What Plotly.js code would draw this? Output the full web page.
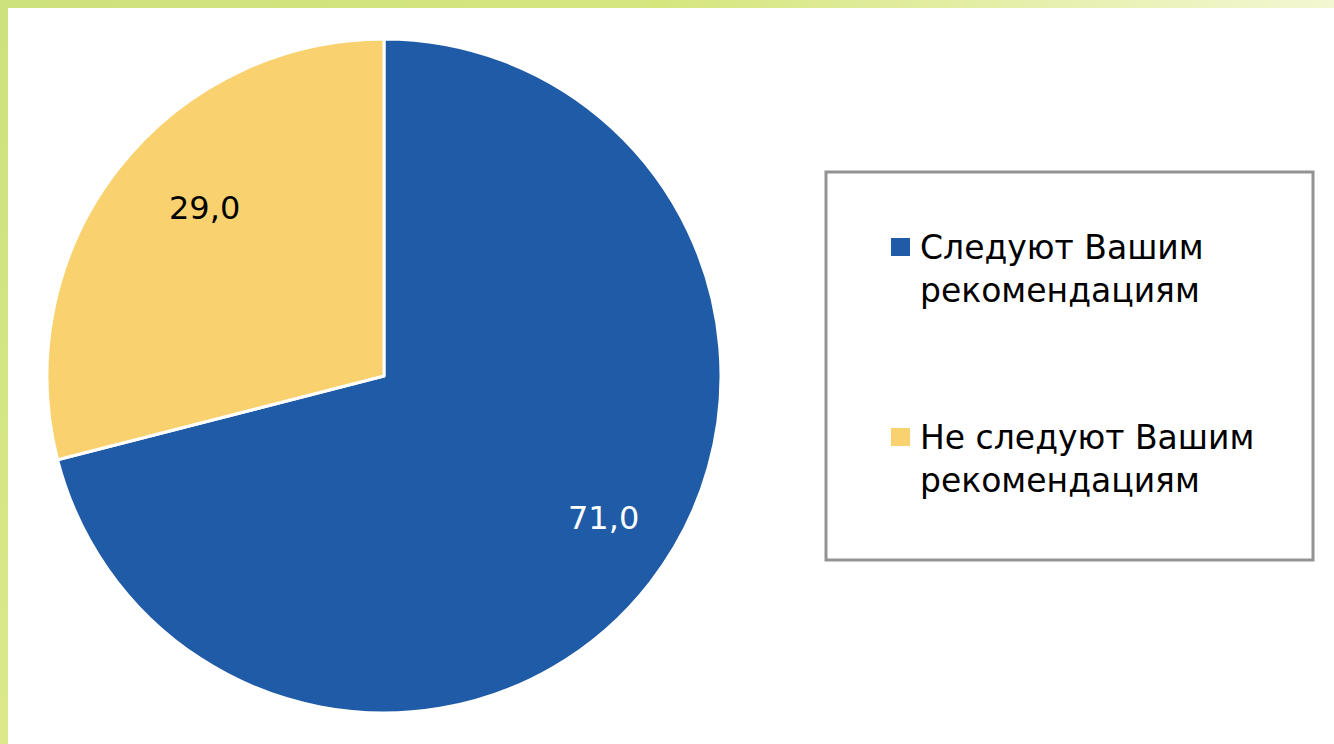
<!DOCTYPE html>
<html>
<head>
<meta charset="utf-8">
<script src="https://cdn.plot.ly/plotly-3.0.1.min.js"></script>
<style>
html,body{margin:0;padding:0;background:#fff;width:1334px;height:744px;overflow:hidden;}
#chart{position:absolute;left:0;top:0;width:1334px;height:744px;}
#topbar{position:absolute;left:0;top:0;width:1334px;height:8px;background:linear-gradient(to right,#cde17c,#d6e67f 50%,#f3f7d2);}
#leftbar{position:absolute;left:0;top:0;width:8px;height:744px;background:linear-gradient(to bottom,#cde17c,#dbe98a);}
</style>
</head>
<body>
<div id="chart"></div>
<div id="topbar"></div>
<div id="leftbar"></div>
<script>
const categories = ["Следуют Вашим рекомендациям", "Не следуют Вашим рекомендациям"];
const values = [71.0, 29.0];
const colors = ["#1f5ba6", "#f9d26f"];
const textColors = ["#ffffff", "#000000"];

const W = 1334, H = 744;
function px(x){return x/W;}
function py(y){return 1 - y/H;}

// pie geometry (pixels)
const cx = 384, cy = 376, R = 337;
const FONT = "DejaVu Sans";

const trace = {
  type: "pie",
  labels: categories,
  values: values,
  sort: false,
  direction: "clockwise",
  rotation: 0,
  marker: {colors: colors, line: {color: "#ffffff", width: 3}},
  textinfo: "none",
  hoverinfo: "label+value",
  showlegend: false,
  domain: {x: [px(cx - R), px(cx + R)], y: [py(cy + R), py(cy - R)]}
};

const annotations = [];
const shapes = [];

// value labels placed along each slice's bisector
const total = values.reduce((a, b) => a + b, 0);
let cum = 0;
values.forEach((v, i) => {
  const mid = (cum + v / 2) / total * 2 * Math.PI; // clockwise from 12 o'clock
  cum += v;
  const r = 0.75 * R;
  const x = cx + r * Math.sin(mid) + 20;
  const y = cy - r * Math.cos(mid) - 13;
  annotations.push({
    xref: "paper", yref: "paper", x: px(x), y: py(y),
    xanchor: "center", yanchor: "middle", showarrow: false,
    text: v.toFixed(1).replace(".", ","),
    font: {family: FONT, size: 32, color: textColors[i]}
  });
});

// legend box
shapes.push({
  type: "rect", xref: "paper", yref: "paper",
  x0: px(826), x1: px(1313), y0: py(560), y1: py(172),
  line: {color: "#939393", width: 3}, fillcolor: "#ffffff", layer: "below"
});

// legend entries
const legTop = 247, legStep = 190;
categories.forEach((c, i) => {
  const yc = legTop + i * legStep;
  shapes.push({
    type: "rect", xref: "paper", yref: "paper",
    x0: px(891), x1: px(910), y0: py(yc + 9), y1: py(yc - 9),
    line: {width: 0}, fillcolor: colors[i]
  });
  const k = c.lastIndexOf(" ");
  annotations.push({
    xref: "paper", yref: "paper", x: px(918), y: py(yc + 22),
    xanchor: "left", yanchor: "middle", align: "left", showarrow: false,
    text: c.slice(0, k) + "<br>" + c.slice(k + 1),
    font: {family: FONT, size: 33, color: "#000000"}
  });
});

const layout = {
  width: W, height: H,
  margin: {l: 0, r: 0, t: 0, b: 0},
  paper_bgcolor: "rgba(0,0,0,0)",
  separators: ",.",
  showlegend: false,
  shapes: shapes,
  annotations: annotations
};

Plotly.newPlot("chart", [trace], layout, {displayModeBar: false});
</script>
</body>
</html>
